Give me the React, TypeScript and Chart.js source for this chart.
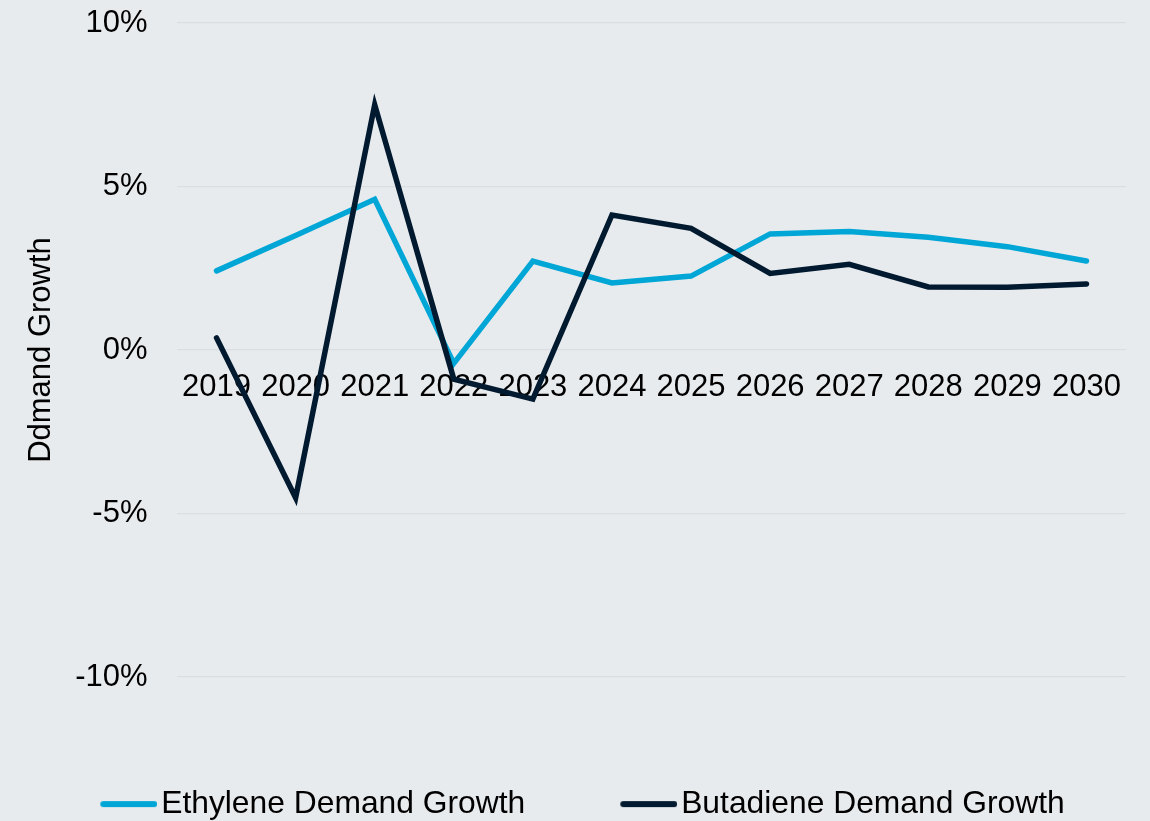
import { useEffect, useRef } from 'react';
import { Chart, registerables } from 'chart.js';

Chart.register(...registerables);

const YEARS = ['2019', '2020', '2021', '2022', '2023', '2024', '2025', '2026', '2027', '2028', '2029', '2030'];
const ETHYLENE = [2.42, 3.5, 4.61, -0.41, 2.72, 2.05, 2.26, 3.55, 3.62, 3.45, 3.16, 2.72];
const BUTADIENE = [0.37, -4.52, 7.5, -0.89, -1.5, 4.13, 3.72, 2.34, 2.62, 1.93, 1.92, 2.02];
const Y_TICK_VALUES = [-10, -5, 0, 5, 10];
const SERIES_NAMES = ['Ethylene Demand Growth', 'Butadiene Demand Growth'];
const SERIES_COLORS = ['#00a6d6', '#021a30'];
const Y_TITLE = 'Ddmand Growth';

const FONT = '"Liberation Sans", Arial, sans-serif';
const LEGEND_FONT = 31.8;
const LEGEND_BOX = 84;
const LEGEND_IMG_W = 108;

function makeLegendImage(color: string) {
  const c = document.createElement('canvas');
  c.width = LEGEND_IMG_W;
  c.height = 10;
  const ctx = c.getContext('2d')!;
  ctx.strokeStyle = color;
  ctx.lineWidth = 6;
  ctx.lineCap = 'round';
  ctx.beginPath();
  ctx.moveTo(LEGEND_IMG_W - 57 + 3, 5);
  ctx.lineTo(LEGEND_IMG_W - 3, 5);
  ctx.stroke();
  return c;
}

export default function App() {
  const ref = useRef<HTMLCanvasElement | null>(null);

  useEffect(() => {
    if (!ref.current) return;
    Chart.defaults.font.family = FONT;
    const imgs = SERIES_COLORS.map(makeLegendImage);
    const chart = new Chart(ref.current, {
      type: 'line',
      data: {
        labels: YEARS,
        datasets: [
          {
            label: SERIES_NAMES[0],
            data: ETHYLENE,
            borderColor: SERIES_COLORS[0],
            backgroundColor: SERIES_COLORS[0],
            borderWidth: 5.5,
            pointRadius: 0,
            pointHoverRadius: 0,
            tension: 0,
            borderCapStyle: 'round',
            order: 1,
            xAxisID: 'x',
            yAxisID: 'y',
          },
          {
            label: SERIES_NAMES[1],
            data: BUTADIENE,
            borderColor: SERIES_COLORS[1],
            backgroundColor: SERIES_COLORS[1],
            borderWidth: 5.5,
            pointRadius: 0,
            pointHoverRadius: 0,
            tension: 0,
            borderCapStyle: 'round',
            order: 0,
            xAxisID: 'x',
            yAxisID: 'y',
          },
        ],
      },
      options: {
        animation: false,
        responsive: true,
        maintainAspectRatio: false,
        layout: { padding: { top: 23, left: 0, right: 24, bottom: 0 } },
        plugins: {
          tooltip: { enabled: false },
          legend: {
            position: 'bottom',
            labels: {
              usePointStyle: true,
              pointStyleWidth: LEGEND_BOX,
              padding: 56,
              color: '#000',
              font: { size: LEGEND_FONT, family: FONT },
              sort: (a: any, b: any) => a.datasetIndex - b.datasetIndex,
              generateLabels: (c: any) => {
                const items = (Chart.defaults.plugins.legend.labels as any).generateLabels(c);
                return items.map((it: any) => ({ ...it, pointStyle: imgs[it.datasetIndex] }));
              },
            },
          },
        },
        scales: {
          x: {
            type: 'category',
            position: { y: 0 } as any,
            offset: true,
            grid: { display: false, drawTicks: false },
            border: { display: false },
            ticks: {
              color: '#000',
              font: { size: 31, family: FONT },
              padding: 19,
              maxRotation: 0,
              autoSkip: false,
            },
          },
          x2: {
            type: 'linear',
            position: 'bottom',
            display: true,
            grid: { display: false, drawTicks: false },
            border: { display: false },
            ticks: { display: false },
            afterFit: (s: any) => {
              s.height = 55.2;
            },
          },
          y: {
            type: 'linear',
            position: 'left',
            min: -10,
            max: 10,
            afterBuildTicks: (s: any) => {
              s.ticks = Y_TICK_VALUES.map((v) => ({ value: v }));
            },
            afterFit: (s: any) => {
              s.width = 177;
            },
            grid: {
              color: '#dadde1',
              lineWidth: 1.2,
              drawTicks: true,
              tickLength: 27,
              tickColor: 'rgba(0,0,0,0)',
            },
            border: { display: false },
            ticks: {
              color: '#000',
              font: { size: 31, family: FONT },
              padding: 2.5,
              callback: (v: any) => v + '%',
            },
            title: {
              display: true,
              text: Y_TITLE,
              color: '#000',
              font: { size: 31, family: FONT },
              padding: { top: 23, bottom: 0 },
            },
          },
        },
      },
    });
    return () => chart.destroy();
  }, []);

  return (
    <div
      style={{
        position: 'fixed',
        left: 0,
        top: 0,
        width: 1150,
        height: 830,
        background: '#e8ebee',
      }}
    >
      <canvas ref={ref} />
    </div>
  );
}
